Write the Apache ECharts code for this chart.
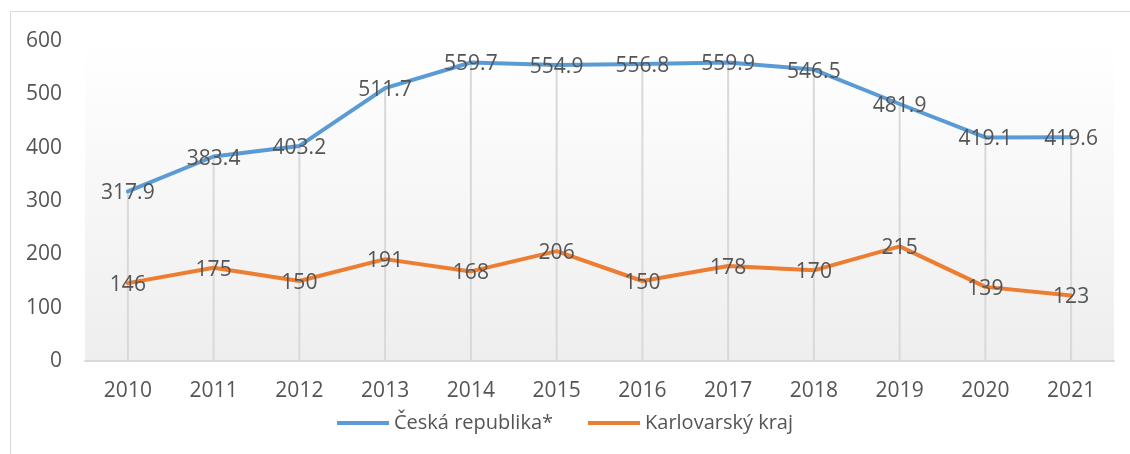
<!DOCTYPE html>
<html>
<head>
<meta charset="utf-8">
<script src="https://cdn.jsdelivr.net/npm/echarts@6/dist/echarts.min.js"></script>
<style>
  html, body {margin: 0; padding: 0; background: #fff;}
  #main {width: 1130px; height: 454px;}
</style>
</head>
<body>
<div id="main"></div>
<script>
const years = ['2010','2011','2012','2013','2014','2015','2016','2017','2018','2019','2020','2021'];
const czValues = [317.9, 383.4, 403.2, 511.7, 559.7, 554.9, 556.8, 559.9, 546.5, 481.9, 419.1, 419.6];
const kvValues = [146, 175, 150, 191, 168, 206, 150, 178, 170, 215, 139, 123];
const seriesNames = ['Česká republika*', 'Karlovarský kraj'];
const colors = ['#5b9bd5', '#ed7d31'];

const font = '"Open Sans", "Noto Sans", sans-serif';
const textColor = '#555555';

const chart = echarts.init(document.getElementById('main'));

const labelStyle = {
  show: true,
  position: 'inside',
  offset: [0, 2],
  color: textColor,
  fontFamily: font,
  fontSize: 21
};

chart.setOption({
  animation: false,
  color: colors,
  textStyle: {fontFamily: font},
  graphic: [{
    type: 'rect',
    shape: {x: 10.5, y: 11.5, width: 1300, height: 600},
    style: {fill: 'none', stroke: '#d9d9d9', lineWidth: 1},
    z: -10
  }],
  grid: {
    left: 85, right: 16, top: 41, bottom: 93,
    show: true,
    borderWidth: 0,
    backgroundColor: new echarts.graphic.LinearGradient(0, 0, 0, 1, [
      {offset: 0, color: '#ffffff'},
      {offset: 1, color: '#eeeeee'}
    ])
  },
  legend: {
    data: seriesNames,
    bottom: 16,
    left: 'center',
    icon: 'rect',
    itemWidth: 52,
    itemHeight: 4,
    itemGap: 35,
    textStyle: {color: textColor, fontFamily: font, fontSize: 20}
  },
  xAxis: {
    type: 'category',
    data: years,
    boundaryGap: true,
    axisLine: {lineStyle: {color: '#d9d9d9', width: 2}},
    axisTick: {show: false},
    axisLabel: {color: textColor, fontFamily: font, fontSize: 21, margin: 20},
    splitLine: {show: false}
  },
  yAxis: {
    type: 'value',
    min: 0, max: 600, interval: 100,
    axisLine: {show: false},
    axisTick: {show: false},
    splitLine: {show: false},
    axisLabel: {color: textColor, fontFamily: font, fontSize: 21, margin: 23}
  },
  series: [
    {
      name: 'drop',
      type: 'bar',
      data: czValues,
      barWidth: 2,
      itemStyle: {color: '#d9d9d9'},
      silent: true,
      z: 1
    },
    {
      name: seriesNames[0],
      type: 'line',
      data: czValues,
      symbol: 'circle',
      symbolSize: 0,
      showSymbol: true,
      lineStyle: {width: 4, color: colors[0], cap: 'round', join: 'round'},
      label: labelStyle,
      z: 3
    },
    {
      name: seriesNames[1],
      type: 'line',
      data: kvValues,
      symbol: 'circle',
      symbolSize: 0,
      showSymbol: true,
      lineStyle: {width: 4, color: colors[1], cap: 'round', join: 'round'},
      label: labelStyle,
      z: 3
    }
  ]
});
</script>
</body>
</html>
